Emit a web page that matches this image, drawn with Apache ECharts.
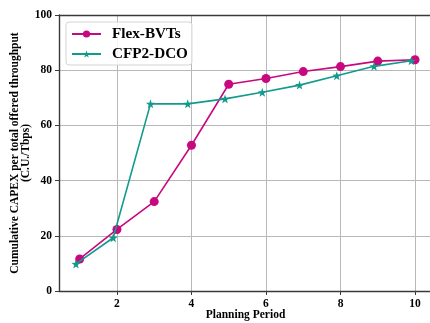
<!DOCTYPE html>
<html>
<head>
<meta charset="utf-8">
<script src="https://cdn.jsdelivr.net/npm/echarts@6/dist/echarts.min.js"></script>
<style>
  html, body { margin: 0; padding: 0; background: #fff; }
  #chart { width: 430px; height: 323px; }
</style>
</head>
<body>
<div id="chart"></div>
<script>
// Planning periods for each technology (CFP2-DCO drawn slightly left of the period)
const flexPeriods = [1, 2, 3, 4, 5, 6, 7, 8, 9, 10];
const dcoPeriods = [0.9, 1.9, 2.9, 3.9, 4.9, 5.9, 6.9, 7.9, 8.9, 9.9];

// Cumulative CAPEX per total offered throughput (C.U./Tbps)
const flexBvts = [11.6, 22.3, 32.4, 52.8, 74.9, 77.0, 79.5, 81.3, 83.3, 83.8];
const cfp2Dco = [9.8, 19.3, 67.8, 67.8, 69.6, 72.0, 74.6, 78.0, 81.4, 83.4];

const xTicks = [2, 4, 6, 8, 10];
const yTicks = [0, 20, 40, 60, 80, 100];

const FONT = '"Liberation Serif", "Times New Roman", serif';
const MAGENTA = '#c8087f';
const TEAL = '#129a8c';
const SPINE = '#3a3a3a';
const GRIDLINE = '#b8b8b8';

const pair = (xs, ys) => xs.map((x, i) => [x, ys[i]]);

const chart = echarts.init(document.getElementById('chart'), null, { renderer: 'canvas' });

chart.setOption({
  animation: false,
  backgroundColor: '#ffffff',
  grid: {
    left: 59, top: 15, right: -2, bottom: 32,
    show: false, containLabel: false, outerBoundsMode: 'none'
  },
  legend: {
    left: 66, top: 22,
    orient: 'vertical',
    itemWidth: 29, itemHeight: 9, itemGap: 3,
    padding: [3.5, 4, 2.5, 5],
    borderColor: '#d4d4d4', borderWidth: 1, borderRadius: 3,
    backgroundColor: 'rgba(255,255,255,0.85)',
    textStyle: {
      fontFamily: FONT, fontWeight: 'bold', fontSize: 15.2, lineHeight: 17,
      color: '#000', padding: [0, 0, 0, 6]
    },
    data: ['Flex-BVTs', 'CFP2-DCO']
  },
  xAxis: [
    {
      type: 'value',
      min: 0.445, max: 10.455,
      interval: 2,
      name: 'Planning Period',
      nameLocation: 'middle',
      nameGap: 18,
      nameMoveOverlap: false,
      nameTextStyle: { fontFamily: FONT, fontWeight: 'bold', fontSize: 11.5, color: '#000' },
      axisLine: { show: true, lineStyle: { color: SPINE, width: 1.4 } },
      axisTick: { show: true, customValues: xTicks, length: 4, lineStyle: { color: SPINE, width: 1 } },
      axisLabel: {
        customValues: xTicks, margin: 7,
        fontFamily: FONT, fontWeight: 'bold', fontSize: 11.5, color: '#000'
      },
      splitLine: { show: true, lineStyle: { color: GRIDLINE, width: 1 } }
    },
    {
      // top frame line only
      type: 'value',
      position: 'top',
      min: 0.445, max: 10.455,
      axisLine: { show: true, onZero: false, lineStyle: { color: SPINE, width: 1.4 } },
      axisTick: { show: false },
      axisLabel: { show: false },
      splitLine: { show: false }
    }
  ],
  yAxis: {
    type: 'value',
    min: 0, max: 100, interval: 20,
    name: 'Cumulative CAPEX per total offered throughput\n(C.U./Tbps)',
    nameLocation: 'middle',
    nameRotate: 90,
    nameGap: 27,
    nameMoveOverlap: false,
    nameTextStyle: {
      fontFamily: FONT, fontWeight: 'bold', fontSize: 11.5, lineHeight: 11,
      color: '#000', align: 'center'
    },
    axisLine: { show: true, lineStyle: { color: SPINE, width: 1.4 } },
    axisTick: { show: true, length: 4, lineStyle: { color: SPINE, width: 1 } },
    axisLabel: {
      margin: 7,
      fontFamily: FONT, fontWeight: 'bold', fontSize: 11.5, color: '#000',
      formatter: (v) => (yTicks.includes(v) ? String(v) : '')
    },
    splitLine: { show: true, lineStyle: { color: GRIDLINE, width: 1 } }
  },
  series: [
    {
      name: 'Flex-BVTs',
      type: 'line',
      data: pair(flexPeriods, flexBvts),
      symbol: 'circle',
      symbolSize: 9,
      lineStyle: { color: MAGENTA, width: 1.6 },
      itemStyle: { color: MAGENTA },
      z: 3
    },
    {
      name: 'CFP2-DCO',
      type: 'line',
      data: pair(dcoPeriods, cfp2Dco),
      symbol: 'path://M0,-10 L2.35,-3.24 L9.51,-3.09 L3.8,1.24 L5.88,8.09 L0,4 L-5.88,8.09 L-3.8,1.24 L-9.51,-3.09 L-2.35,-3.24 Z',
      symbolSize: 9,
      lineStyle: { color: TEAL, width: 1.6 },
      itemStyle: { color: TEAL },
      z: 4
    }
  ]
});
</script>
</body>
</html>
